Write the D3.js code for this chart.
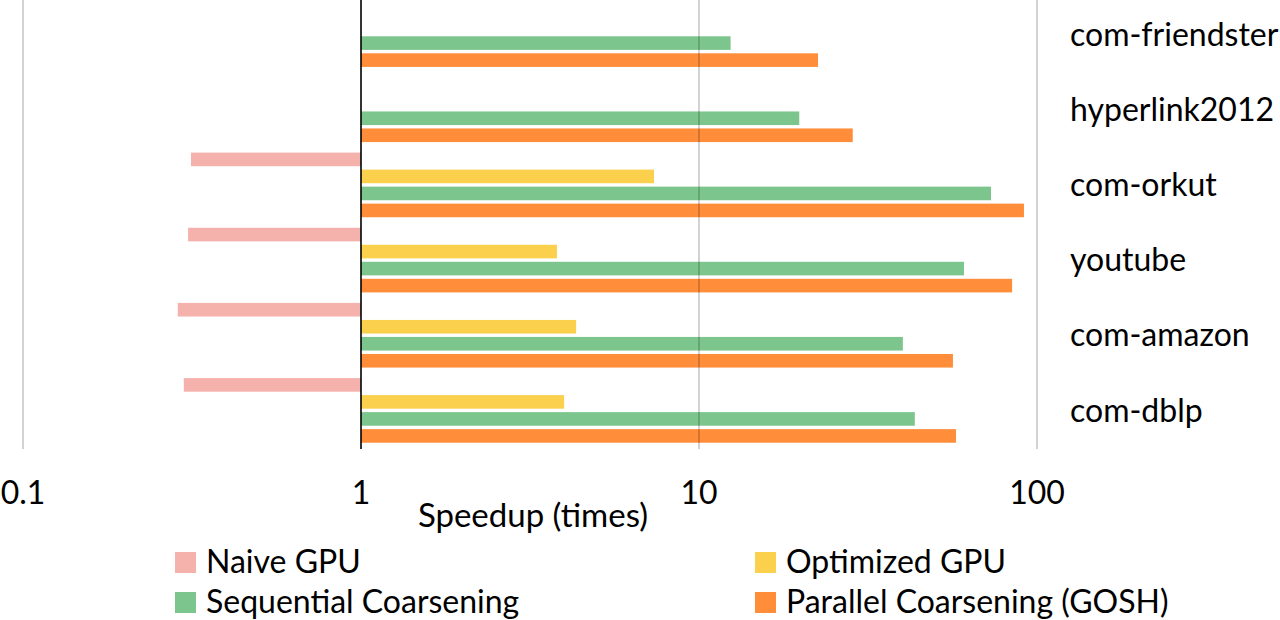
<!DOCTYPE html>
<html>
<head>
  <meta charset="utf-8">
  <title>speedup</title>
  <style>
    body { margin: 0; background: #fff; }
    text { font-family: Lato, "Open Sans", sans-serif; fill: #000; }
  </style>
</head>
<body>
  <svg width="1280" height="620" class="chart"></svg>

  <script src="https://d3js.org/d3.v7.min.js"></script>
  <script type="text/javascript">

  // data (null = no bar)
  var graphs = ["com-friendster", "hyperlink2012", "com-orkut", "youtube", "com-amazon", "com-dblp"];
  var seriesNames = ["Naive GPU", "Optimized GPU", "Sequential Coarsening", "Parallel Coarsening (GOSH)"];
  var seriesColors = ["#F5B1AC", "#FAD04D", "#7CC68E", "#FF8D3A"];
  var naiveGpu = [null, null, 0.314, 0.308, 0.287, 0.299];
  var optimizedGpu = [null, null, 7.36, 3.80, 4.33, 3.99];
  var sequential = [12.4, 19.8, 73.1, 60.8, 40.1, 43.5];
  var parallel = [22.5, 28.5, 91.5, 84.4, 56.4, 57.6];
  var tickValues = [0.1, 1, 10, 100];
  var tickLabels = ["0.1", "1", "10", "100"];

  var allSeries = [naiveGpu, optimizedGpu, sequential, parallel];

  var svg = d3.select(".chart");

  var x = d3.scaleLog().domain([0.1, 100]).range([23, 1037]);
  var y = d3.scaleBand().domain(graphs).range([-3, 448]).paddingInner(0.14).paddingOuter(0.07);
  var ySub = d3.scaleBand().domain(d3.range(4)).range([0, y.bandwidth()]).paddingInner(0.2);

  // bars
  allSeries.forEach(function(vals, si) {
    svg.append("g")
      .selectAll("rect")
      .data(vals.map(function(v, i) { return { g: graphs[i], v: v }; }).filter(function(d) { return d.v != null; }))
      .enter().append("rect")
      .attr("x", function(d) { return Math.min(x(d.v), x(1)); })
      .attr("y", function(d) { return y(d.g) + ySub(si); })
      .attr("width", function(d) { return Math.abs(x(d.v) - x(1)); })
      .attr("height", ySub.bandwidth())
      .style("fill", seriesColors[si]);
  });

  // gridlines on top of the bars
  svg.append("g")
    .selectAll("line")
    .data(tickValues.filter(function(t) { return t != 1; }))
    .enter().append("line")
    .attr("x1", function(d) { return x(d); })
    .attr("x2", function(d) { return x(d); })
    .attr("y1", 0)
    .attr("y2", 449)
    .style("stroke", "#000")
    .style("stroke-opacity", 0.27)
    .style("stroke-width", 1.3);

  // baseline at 1
  svg.append("line")
    .attr("x1", x(1)).attr("x2", x(1))
    .attr("y1", 0).attr("y2", 449)
    .style("stroke", "#000")
    .style("stroke-width", 1.6);

  // tick labels
  svg.append("g")
    .selectAll("text")
    .data(tickValues)
    .enter().append("text")
    .attr("x", function(d) { return x(d); })
    .attr("y", 493)
    .attr("dy", "0.35em")
    .attr("text-anchor", "middle")
    .style("font-size", "32px")
    .text(function(d, i) { return tickLabels[i]; });

  svg.append("text")
    .attr("x", 533)
    .attr("y", 515)
    .attr("dy", "0.35em")
    .attr("text-anchor", "middle")
    .style("font-size", "33px")
    .text("Speedup (times)");

  // category labels on the right
  svg.append("g")
    .selectAll("text")
    .data(graphs)
    .enter().append("text")
    .attr("x", 1070)
    .attr("y", function(d) { return y(d) + y.bandwidth() / 2; })
    .attr("dy", "0.35em")
    .style("font-size", "32px")
    .text(function(d) { return d; });

  // legend
  var legendPos = [[175, 562], [755, 562], [175, 602], [755, 602]];
  var legend = svg.append("g")
    .selectAll("g")
    .data(seriesNames)
    .enter().append("g")
    .attr("transform", function(d, i) { return "translate(" + legendPos[i][0] + "," + legendPos[i][1] + ")"; });
  legend.append("rect")
    .attr("x", 0).attr("y", -10)
    .attr("width", 21).attr("height", 21)
    .style("fill", function(d, i) { return seriesColors[i]; });
  legend.append("text")
    .attr("x", 31)
    .attr("y", 0)
    .attr("dy", "0.35em")
    .style("font-size", "32px")
    .text(function(d) { return d; });

  </script>
</body>
</html>
